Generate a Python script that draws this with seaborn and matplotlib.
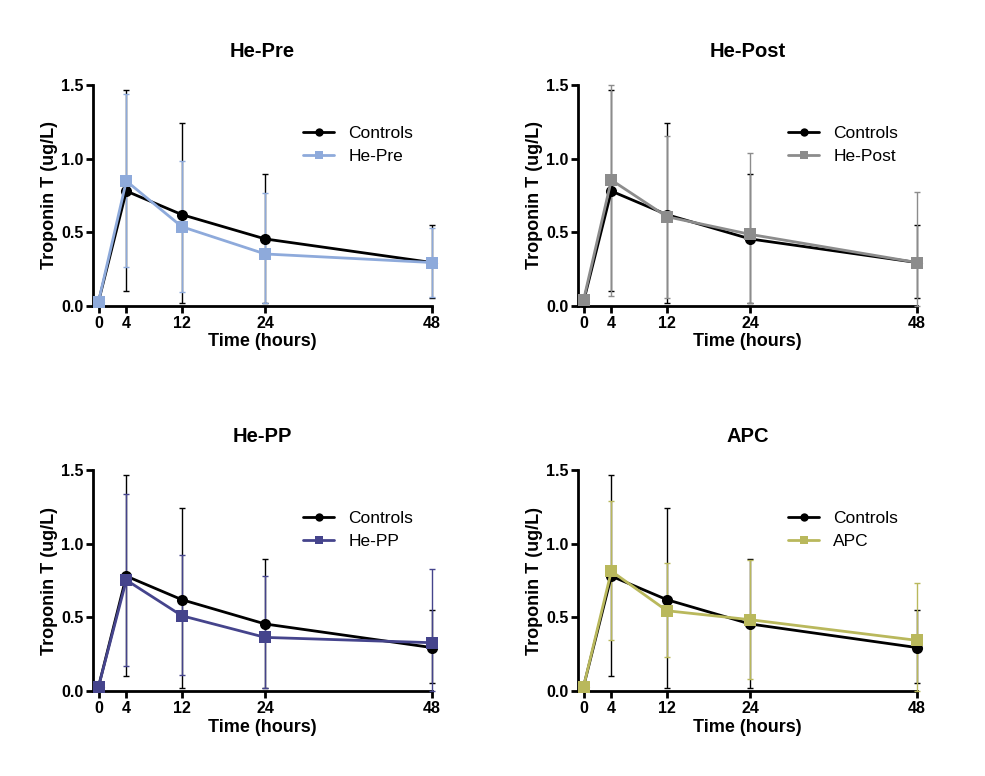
import numpy as np
import pandas as pd
import matplotlib
matplotlib.use("Agg")
import matplotlib.pyplot as plt
import seaborn as sns

time_h = [0, 4, 12, 24, 48]
x_ticks = [0, 4, 12, 24, 48]
y_ticks = [0.0, 0.5, 1.0, 1.5]

ctrl_mean = [0.03, 0.78, 0.62, 0.455, 0.295]
ctrl_lo = [0.02, 0.10, 0.018, 0.02, 0.052]
ctrl_hi = [0.04, 1.466, 1.24, 0.894, 0.547]

groups = ["He-Pre", "He-Post", "He-PP", "APC"]
colors = ["#8eaadb", "#8c8c8c", "#45448c", "#b9b85c"]

grp_mean = {
    "He-Pre": [0.03, 0.848, 0.538, 0.353, 0.295],
    "He-Post": [0.04, 0.855, 0.606, 0.486, 0.295],
    "He-PP": [0.03, 0.753, 0.511, 0.364, 0.328],
    "APC": [0.03, 0.814, 0.545, 0.484, 0.344],
}
grp_lo = {
    "He-Pre": [0.02, 0.262, 0.097, 0.018, 0.063],
    "He-Post": [0.03, 0.068, 0.054, 0.018, 0.0],
    "He-PP": [0.02, 0.172, 0.109, 0.018, 0.0],
    "APC": [0.02, 0.344, 0.228, 0.081, 0.0],
}
grp_hi = {
    "He-Pre": [0.04, 1.437, 0.984, 0.765, 0.527],
    "He-Post": [0.05, 1.50, 1.154, 1.04, 0.771],
    "He-PP": [0.04, 1.337, 0.921, 0.78, 0.826],
    "APC": [0.04, 1.29, 0.867, 0.891, 0.731],
}

sns.set_theme(style="ticks")
plt.rcParams["font.family"] = ["Liberation Sans", "DejaVu Sans"]
plt.rcParams["text.color"] = "black"
plt.rcParams["axes.labelcolor"] = "black"
plt.rcParams["axes.titlecolor"] = "black"

fig = plt.figure(figsize=(9.85, 7.76), dpi=100)
positions = [
    (0.0944, 0.6057, 0.344, 0.2848),
    (0.5868, 0.6057, 0.344, 0.2848),
    (0.0944, 0.1095, 0.344, 0.2848),
    (0.5868, 0.1095, 0.344, 0.2848),
]


def unclip(container):
    for art in container.lines:
        if art is None:
            continue
        if isinstance(art, (list, tuple)):
            for a in art:
                a.set_clip_on(False)
        else:
            art.set_clip_on(False)
    for coll in container.lines[2]:
        coll.set_clip_on(False)


for g, col, pos in zip(groups, colors, positions):
    ax = fig.add_axes(pos)
    df = pd.DataFrame({
        "time": time_h * 2,
        "value": ctrl_mean + grp_mean[g],
        "group": ["Controls"] * len(time_h) + [g] * len(time_h),
    })
    cm = np.array(ctrl_mean)
    c1 = ax.errorbar(time_h, cm, yerr=[cm - np.array(ctrl_lo), np.array(ctrl_hi) - cm],
                     fmt="none", ecolor="black", elinewidth=1.0, capsize=2.5,
                     capthick=1.0, zorder=2)
    unclip(c1)
    gm = np.array(grp_mean[g])
    c2 = ax.errorbar(time_h, gm, yerr=[gm - np.array(grp_lo[g]), np.array(grp_hi[g]) - gm],
                     fmt="none", ecolor=col, elinewidth=1.0, capsize=2.5,
                     capthick=1.0, zorder=3)
    unclip(c2)
    sns.lineplot(data=df, x="time", y="value", hue="group", style="group",
                 palette={"Controls": "black", g: col},
                 markers={"Controls": "o", g: "s"}, dashes=False,
                 linewidth=2.0, markersize=8, markeredgewidth=0,
                 ax=ax, legend=True, zorder=4)
    for ln in ax.lines:
        ln.set_clip_on(False)
    ax.set_xlim(-0.8, 48)
    ax.set_ylim(0, 1.5)
    ax.set_xticks(x_ticks)
    ax.set_yticks(y_ticks)
    ax.set_yticklabels([f"{v:.1f}" for v in y_ticks])
    ax.spines["top"].set_visible(False)
    ax.spines["right"].set_visible(False)
    for s in ["left", "bottom"]:
        ax.spines[s].set_linewidth(2.0)
        ax.spines[s].set_color("black")
        ax.spines[s].set_zorder(1)
    ax.tick_params(axis="both", direction="out", length=5, width=2.0, colors="black",
                   labelsize=11.5, pad=2)
    for lbl in ax.get_xticklabels() + ax.get_yticklabels():
        lbl.set_fontweight("bold")
    ax.set_xlabel("Time (hours)", fontsize=13, fontweight="bold", labelpad=2)
    ax.set_ylabel("Troponin T (ug/L)", fontsize=13, fontweight="bold", labelpad=2)
    ax.set_title(g, fontsize=14.5, fontweight="bold", pad=20, color="black")
    handles, labels = ax.get_legend_handles_labels()
    for h in handles:
        h.set_markersize(6)
    ax.legend(handles, labels, frameon=False, loc="upper left",
              bbox_to_anchor=(0.6, 0.845), fontsize=12.5, handlelength=1.8,
              handletextpad=0.8, labelspacing=0.45, borderaxespad=0)
    ax.set_facecolor("white")

fig.patch.set_facecolor("white")
fig.savefig("out.png", dpi=100, facecolor="white")
